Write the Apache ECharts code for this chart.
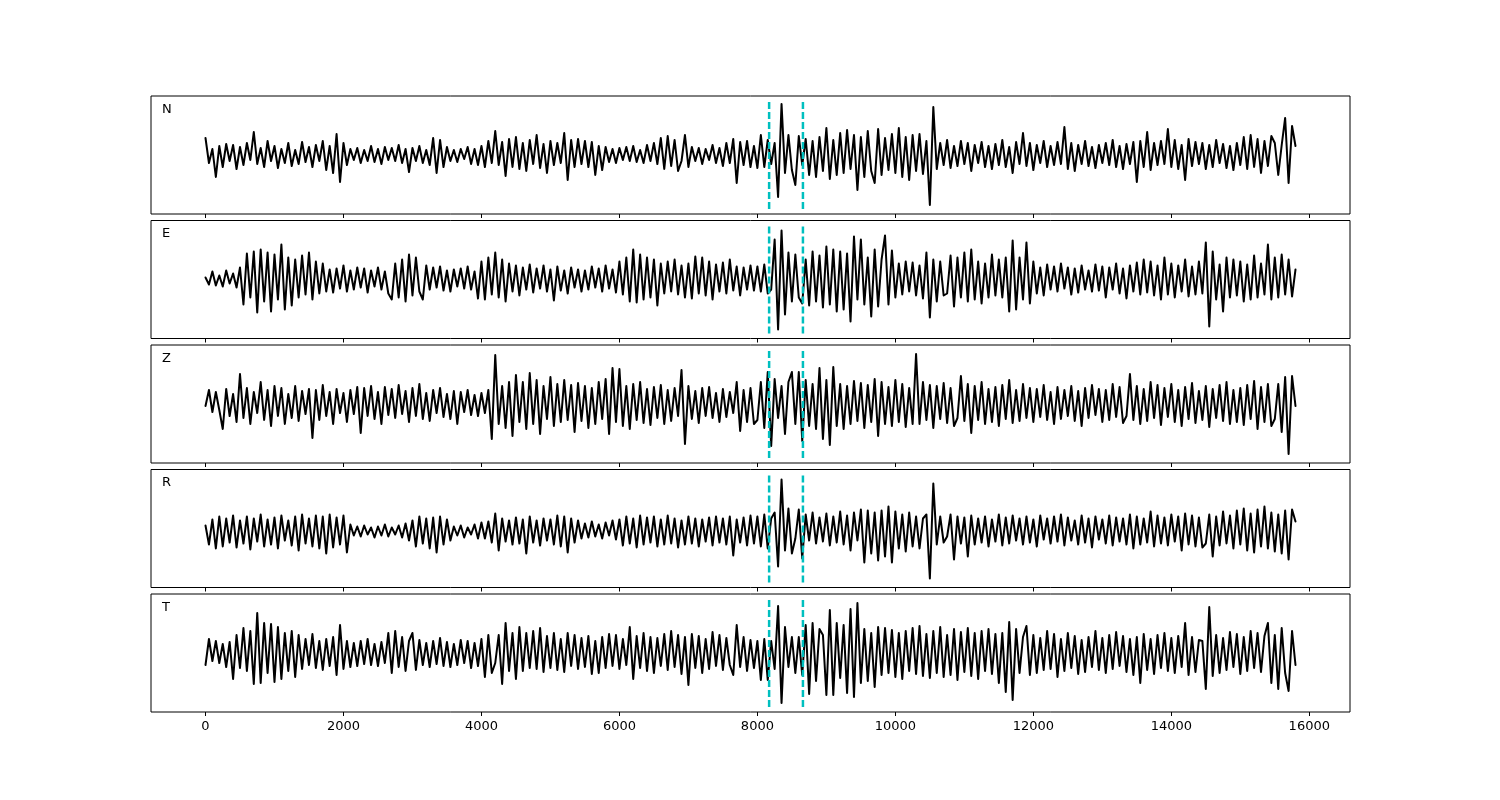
<!DOCTYPE html>
<html>
<head>
<meta charset="utf-8">
<script src="https://cdn.jsdelivr.net/npm/echarts@6/dist/echarts.min.js"></script>
<style>
html,body{margin:0;padding:0;background:#fff;}
#chart{width:1500px;height:800px;}
</style>
</head>
<body>
<div id="chart"></div>
<script>
// ---- data (amplitudes, one value every 50 samples) ----
const SAMPLE_STEP = 50;
const COMPONENTS = ['N', 'E', 'Z', 'R', 'T'];
const PICK_TIMES = [8170, 8660];
const X_TICKS = [0, 2000, 4000, 6000, 8000, 10000, 12000, 14000, 16000];

const traceN = [
 17, -8, 6, -22, 9, -12, 11, -6, 10, -14,
 8, -10, 12, -5, 23, -9, 7, -12, 14, -6,
 9, -13, 6, -8, 12, -11, 5, -9, 13, -7,
 8, -12, 10, -6, 14, -15, 9, -18, 21, -27,
 12, -10, 6, -5, 7, -8, 5, -6, 9, -7,
 6, -9, 8, -5, 7, -6, 10, -8, 6, -17,
 7, -6, 9, -8, 5, -10, 17, -18, 15, -12,
 8, -6, 5, -7, 6, -4, 8, -9, 6, -10,
 9, -12, 14, -8, 24, -10, 13, -21, 16, -12,
 18, -14, 12, -16, 15, -9, 20, -13, 11, -18,
 14, -10, 12, -8, 22, -25, 15, -12, 16, -9,
 14, -12, 13, -20, 9, -15, 8, -7, 6, -8,
 7, -5, 8, -6, 9, -7, 5, -8, 10, -6,
 12, -9, 17, -14, 19, -11, 15, -16, -6, 20,
 -12, 8, -6, 7, -9, 6, -5, 10, -8, 7,
 -11, 12, -8, 16, -28, 13, -10, 14, -12, 9,
 -13, 20, -12, 15, -9, 12, -42, 51, -18, 20,
 -15, -30, 19, -10, 16, -20, 14, -22, 18, -16,
 27, -24, 15, -20, 22, -18, 25, -14, 20, -35,
 18, -22, 24, -16, -28, 26, -20, 17, -15, 21,
 -18, 27, -22, 18, -25, 20, -16, 21, -19, 14,
 -50, 48, -14, 12, -10, 15, -13, 9, -11, 14,
 -9, 12, -16, 10, -8, 13, -12, 9, -14, 11,
 -10, 15, -12, 8, -18, 13, -9, 22, -11, 12,
 -15, 10, -8, 14, -12, 9, -10, 13, -9, 28,
 -14, 12, -16, 10, -9, 14, -11, 8, -13, 10,
 -8, 12, -10, 15, -12, 9, -14, 11, -9, 13,
 -27, 14, -12, 23, -15, 12, -10, 14, -9, 26,
 -12, 15, -14, 10, -25, 16, -11, 13, -9, 12,
 -14, 10, -12, 15, -8, 11, -13, 9, -15, 12,
 -10, 18, -14, 20, -12, 16, -18, 14, -11, 19,
 12, -20, 10, 37, -28, 29, 9
];

const traceE = [
 2, -5, 8, -6, 4, -7, 9, -4, 6, -8,
 12, -25, 26, -18, 28, -33, 30, -22, 27, -32,
 25, -20, 35, -30, 22, -26, 20, -18, 24, -15,
 27, -20, 18, -14, 16, -12, 10, -13, 11, -9,
 14, -12, 9, -10, 12, -8, 11, -13, 9, -7,
 12, -10, 8, -14, -20, 16, -18, 20, -22, 25,
 -16, 22, -12, -20, 14, -10, 12, -8, 13, -11,
 9, -12, 10, -7, 11, -9, 13, -10, 8, -19,
 18, -20, 22, -15, 27, -18, 20, -22, 16, -12,
 14, -16, 12, -10, 15, -13, 11, -9, 14, -12,
 10, -21, 13, -11, 9, -14, 12, -8, 10, -12,
 9, -10, 13, -8, 11, -12, 14, -9, 10, -13,
 18, -15, 22, -22, 30, -23, 25, -20, 22, -18,
 20, -26, 16, -14, 18, -12, 20, -15, 14, -18,
 16, -19, 23, -14, 22, -16, 18, -20, 15, -12,
 17, -14, 20, -11, 13, -16, 12, -10, 14, -11,
 13, -12, 15, -14, -10, 40, -50, 49, -35, 27,
 -22, 25, -18, -24, 20, -26, 28, -22, 24, -28,
 33, -25, 30, -32, 28, -30, 26, -42, 43, -20,
 40, -25, 22, -37, 30, -27, 20, 44, -25, 29,
 -18, 16, -15, 18, -12, 17, -16, 14, -19, 27,
 -38, 20, -22, 18, -16, -14, 24, -27, 22, -18,
 27, -22, 30, -20, 18, -24, 16, -18, 25, -16,
 20, -18, 22, -32, 39, -30, 22, -20, 37, -24,
 18, -14, 12, -16, 15, -10, 13, -12, 16, -9,
 12, -15, 11, -13, 14, -10, 9, -12, 15, -11,
 13, -18, 12, -10, 16, -14, 11, -19, 14, -12,
 17, -15, 20, -13, 18, -16, 14, -20, 22, -15,
 16, -18, 14, -12, 20, -17, 13, -15, 18, -14,
 37, -47, 28, -20, 15, -32, 22, -18, 20, -16,
 18, -22, 15, -20, 24, -18, 16, -15, 35, -20,
 22, -18, 25, -15, 20, -17, 10
];

const traceZ = [
 -2, 14, -8, 12, -6, -25, 15, -12, 10, -18,
 30, -14, 16, -20, 12, -9, 22, -16, 14, -22,
 18, -12, 16, -20, 10, -14, 18, -17, 13, -10,
 15, -34, 14, -16, 19, -12, 12, -20, 15, -9,
 11, -18, 14, -10, 17, -29, 16, -12, 18, -15,
 12, -20, 17, -11, 15, -14, 19, -10, 13, -18,
 16, -12, 20, -15, 11, -17, 14, -9, 16, -13,
 10, -15, 13, -20, 12, -8, 14, -11, 9, -12,
 11, -9, 14, -35, 49, -20, 18, -24, 22, -32,
 29, -18, 22, -25, 31, -20, 24, -30, 18, -15,
 27, -22, 20, -18, 24, -16, 19, -28, 21, -17,
 18, -24, 16, -20, 22, -15, 25, -30, 36, -18,
 35, -22, 18, -25, 20, -16, 22, -19, 15, -21,
 17, -14, 19, -20, 14, -17, 16, -12, 34, -40,
 18, -15, 13, -19, 16, -12, 17, -14, 11, -18,
 15, -13, 12, -9, 22, -27, 14, -18, 16, -20,
 -16, 22, -24, 32, -42, 25, -14, 18, -30, 22,
 32, -20, 32, -37, 24, -22, 20, -25, 36, -35,
 24, -41, 37, -22, 20, -25, 18, -20, 23, -17,
 21, -24, 19, -18, 25, -32, 22, -20, 17, -22,
 24, -18, 20, -23, 16, -20, 50, -20, 22, -16,
 19, -24, 18, -15, 21, -19, 16, -22, -14, 28,
 -17, 20, -29, 18, -16, 22, -20, 15, -18, 17,
 -22, 19, -15, 24, -19, 14, -17, 20, -14, 16,
 -18, 15, -13, 19, -16, 12, -20, 17, -15, 14,
 -12, 18, -17, 13, -22, 16, -14, 19, -11, 15,
 -18, 14, -16, 20, -13, 17, -19, -12, 30, -16,
 18, -20, 15, -17, 22, -14, 19, -21, 16, -13,
 20, -18, 14, -22, 17, -15, 21, -19, 13, -16,
 18, -23, 15, -14, 19, -17, 22, -20, 14, -18,
 16, -21, 19, -15, 23, -25, 17, -18, 20, -22,
 -15, 20, -28, 27, -50, 28, -2
];

const traceR = [
 3, -16, 9, -20, 12, -18, 10, -14, 13, -19,
 8, -15, 12, -21, 10, -13, 14, -18, 9, -16,
 11, -20, 13, -12, 8, -17, 12, -22, 14, -15,
 10, -18, 13, -20, 12, -25, 14, -19, 11, -16,
 13, -24, 4, -7, 2, -8, 3, -6, 1, -9,
 2, -7, 4, -8, 1, -6, 3, -9, 5, -12,
 8, -18, 12, -15, 10, -20, 11, -24, 12, -16,
 9, -12, 2, -7, 3, -9, 1, -6, 4, -10,
 6, -10, 7, -14, 15, -22, 10, -13, 8, -16,
 11, -15, 9, -25, 12, -14, 8, -17, 10, -12,
 9, -16, 13, -18, 12, -24, 10, -14, 8, -10,
 5, -9, 7, -8, 4, -10, 6, -7, 8, -11,
 9, -17, 12, -15, 10, -19, 13, -16, 11, -14,
 12, -18, 9, -16, 13, -15, 10, -19, 8, -16,
 12, -15, 10, -18, 9, -13, 11, -17, 12, -14,
 10, -16, 12, -27, 9, -14, 11, -17, 13, -15,
 12, -18, 14, -20, 10, 16, -38, 49, -22, 20,
 -25, -10, 19, -30, 14, -12, 16, -15, 11, -13,
 15, -17, 12, -14, 17, -16, 13, -22, 16, -12,
 19, -34, 18, -25, 16, -32, 18, -28, 22, -34,
 17, -20, 14, -23, 16, -18, 12, -20, 10, 14,
 -50, 45, -16, 12, -14, -8, 14, -31, 12, -15,
 11, -28, 13, -16, 10, -14, 12, -18, 9, -13,
 14, -17, 11, -15, 13, -12, 10, -16, 12, -14,
 9, -18, 13, -11, 10, -15, 12, -13, 14, -17,
 11, -12, 8, -16, 13, -14, 10, -19, 12, -11,
 9, -15, 13, -17, 11, -13, 10, -16, 14, -20,
 12, -16, 10, -14, 17, -18, 13, -15, 11, -17,
 14, -13, 12, -22, 15, -16, 13, -18, 11, -19,
 -15, 14, -28, 12, -17, 17, -15, 13, -20, 18,
 -16, 20, -22, 15, -24, 19, -18, 22, -20, 16,
 -23, 14, -25, 18, -31, 19, 7
];

const traceT = [
 -12, 14, -8, 12, -10, 9, -14, 11, -26, 18,
 -15, 25, -18, 22, -31, 40, -30, 30, -20, 29,
 -29, 26, -26, 20, -18, 22, -24, 18, -16, 14,
 -12, 19, -15, 12, -17, 14, -13, 16, -22, 28,
 -16, 12, -14, 10, -13, 12, -11, 14, -12, 9,
 -13, 11, -10, 20, -20, 22, -14, 16, -18, 12,
 20, -17, 13, -12, 10, -14, 12, -11, 15, -13,
 11, -14, 9, -12, 13, -10, 12, -15, 10, -13,
 14, -24, 18, -20, -10, 18, -31, 30, -18, 20,
 -26, 26, -18, 20, -15, 22, -16, 25, -19, 17,
 -15, 20, -17, 14, -19, 20, -13, 18, -16, 15,
 -14, 17, -21, 12, -20, 16, -15, 19, -13, 18,
 -16, 14, -12, 26, -26, 17, -15, 20, -18, 16,
 -20, 15, -13, 19, -17, 22, -14, 18, -21, 16,
 -32, 19, -15, 17, -20, 14, -16, 21, -13, 18,
 -17, 15, -12, -22, 28, -14, 16, -18, 13, -15,
 12, -27, 14, -27, 12, -16, 47, -50, 26, -14,
 16, -20, 16, -22, 28, -41, 30, -28, 24, 18,
 -42, 43, -42, 30, -25, 28, -40, 44, -44, 50,
 -30, 24, -28, 20, -34, 26, -22, 25, -20, 23,
 -24, 20, -26, 22, -18, 25, -21, 27, -23, 19,
 -25, 22, -20, 26, -24, 18, -22, 24, -27, 21,
 -19, 25, -23, 20, -26, 22, -18, 24, -21, 19,
 -30, 20, -39, 31, -47, 24, -20, 16, 27, -22,
 18, -20, 15, -17, 22, -16, 19, -24, 14, -18,
 20, -15, 17, -21, 13, -19, 16, -14, 22, -17,
 15, -20, 18, -16, 21, -13, 17, -19, 14, -22,
 16, -30, 19, -17, 14, -21, 18, -15, 20, -18,
 15, -20, 17, -14, 30, -22, 16, -19, 13, 12,
 -36, 46, -23, 18, -20, 15, -17, 21, -14, 19,
 -21, 16, -18, 22, -15, 20, -19, 17, 30, -30,
 18, -36, 25, -20, -38, 22, -12
];

const TRACES = [traceN, traceE, traceZ, traceR, traceT];

// ---- layout ----
const GRID_LEFT = 151, GRID_WIDTH = 1199, GRID_HEIGHT = 118;
const GRID_TOPS = [96, 220.5, 345, 469.5, 594];
const X_MIN = -790, X_MAX = 16590;
const Y_LIM = 59;
const PICK_SPAN = 54;
const FONT = 'DejaVu Sans';

const grids = [], xAxes = [], yAxes = [], series = [], titles = [];
TRACES.forEach((trace, k) => {
  const last = k === TRACES.length - 1;
  grids.push({
    left: GRID_LEFT, top: GRID_TOPS[k], width: GRID_WIDTH, height: GRID_HEIGHT,
    show: true, borderColor: '#000', borderWidth: 1, backgroundColor: 'transparent',
    containLabel: false
  });
  xAxes.push({
    type: 'value', gridIndex: k, min: X_MIN, max: X_MAX, position: 'bottom',
    axisLine: { show: false, onZero: false },
    axisTick: { show: true, inside: false, length: 4, customValues: X_TICKS,
      lineStyle: { color: '#000', width: 1 } },
    axisLabel: { show: last, customValues: X_TICKS, margin: 8, color: '#000',
      fontFamily: FONT, fontSize: 13, formatter: v => String(v) },
    splitLine: { show: false }
  });
  yAxes.push({
    type: 'value', gridIndex: k, min: -Y_LIM, max: Y_LIM,
    axisLine: { show: false, onZero: false }, axisTick: { show: false },
    axisLabel: { show: false }, splitLine: { show: false }
  });
  series.push({
    type: 'line', xAxisIndex: k, yAxisIndex: k,
    data: trace.map((v, i) => [i * SAMPLE_STEP, v]),
    showSymbol: false, symbol: 'none', silent: true, z: 2,
    lineStyle: { color: '#000', width: 2, join: 'round', cap: 'round' }
  });
  PICK_TIMES.forEach(t => {
    series.push({
      type: 'line', xAxisIndex: k, yAxisIndex: k,
      data: [[t, -PICK_SPAN], [t, PICK_SPAN]],
      showSymbol: false, symbol: 'none', silent: true, z: 3,
      lineStyle: { color: '#00BFBF', width: 2.5, type: [7, 3] }
    });
  });
  titles.push({
    text: COMPONENTS[k], left: 157, top: GRID_TOPS[k] + 2,
    textStyle: { fontFamily: FONT, fontSize: 13, fontWeight: 'normal', color: '#000' }
  });
});

const chart = echarts.init(document.getElementById('chart'), null, { renderer: 'canvas' });
chart.setOption({
  animation: false,
  backgroundColor: '#fff',
  title: titles,
  grid: grids,
  xAxis: xAxes,
  yAxis: yAxes,
  series: series
});
</script>
</body>
</html>
